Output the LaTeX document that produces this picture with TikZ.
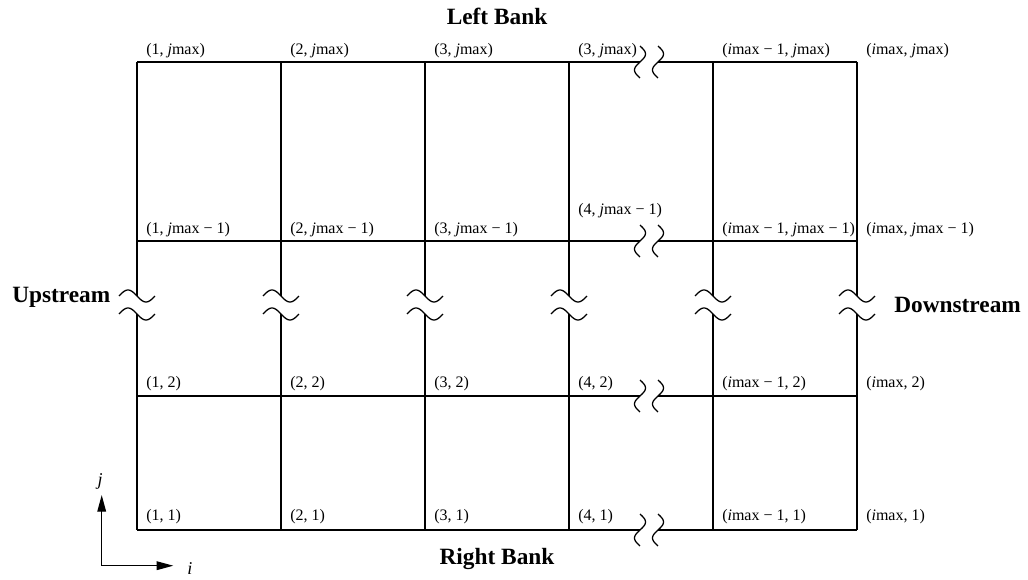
\documentclass[tikz,border=0pt]{standalone}
\usepackage{fontspec}
\setmainfont{Liberation Serif}
\usetikzlibrary{arrows.meta}
\begin{document}
\begin{tikzpicture}[x=0.75pt,y=-0.75pt,
  grid/.style={line width=0.95pt,black},
  lbl/.style={anchor=base west,inner sep=0pt,font=\fontsize{12}{14}\selectfont},
  bank/.style={inner sep=0pt,font=\fontsize{17.5}{20}\selectfont\bfseries},
  axlbl/.style={inner sep=0pt,font=\fontsize{13.5}{15}\selectfont\itshape},
  hbrk/.pic={\draw[grid] plot[smooth,domain=-1:1,samples=41] ({18*\x},{6*sin(180*\x)});},
  vbrk/.pic={\draw[grid] plot[smooth,domain=-1:1,samples=41] ({-5.5*sin(180*\x)},{16*\x});},
  axis/.style={line width=0.95pt,-{Triangle[length=12.5pt,width=6.5pt]}}
]
\useasboundingbox (0,0) rectangle (1028,580);

% grid points
\foreach \c/\xx in {1/137,2/281,3/425,4/569,5/713,6/857}{
  \foreach \r/\yy in {1/530,2/396,3/241,4/62}{
    \coordinate (g\c-\r) at (\xx,\yy);
  }
  \coordinate (vt\c) at (\xx,296);
  \coordinate (vb\c) at (\xx,314);
}
\foreach \r/\yy in {1/530,2/396,3/241,4/62}{
  \coordinate (hl\r) at (640,\yy);
  \coordinate (hr\r) at (658,\yy);
}

% vertical lines with breaks
\foreach \c in {1,...,6}{
  \draw[grid] (g\c-4) -- (g\c-3) -- (vt\c);
  \draw[grid] (vb\c) -- (g\c-2) -- (g\c-1);
  \pic at (vt\c) {hbrk};
  \pic at (vb\c) {hbrk};
}

% horizontal lines with breaks
\foreach \r in {1,...,4}{
  \draw[grid] (g1-\r) -- (g2-\r) -- (g3-\r) -- (g4-\r) -- (hl\r);
  \draw[grid] (hr\r) -- (g5-\r) -- (g6-\r);
  \pic at (hl\r) {vbrk};
  \pic at (hr\r) {vbrk};
}

% labels, top row
\node[lbl] (l14) at ([shift={(9,-7)}]g1-4) {(1, \textit{j}max)};
\node[lbl] (l24) at ([shift={(9,-7)}]g2-4) {(2, \textit{j}max)};
\node[lbl] (l34) at ([shift={(9,-7)}]g3-4) {(3, \textit{j}max)};
\node[lbl] (l44) at ([shift={(9,-7)}]g4-4) {(3, \textit{j}max)};
\node[lbl] (l54) at ([shift={(9,-7)}]g5-4) {(\textit{i}max − 1, \textit{j}max)};
\node[lbl] (l64) at ([shift={(9,-7)}]g6-4) {(\textit{i}max, \textit{j}max)};
% row jmax-1
\node[lbl] (l13) at ([shift={(9,-7)}]g1-3) {(1, \textit{j}max − 1)};
\node[lbl] (l23) at ([shift={(9,-7)}]g2-3) {(2, \textit{j}max − 1)};
\node[lbl] (l33) at ([shift={(9,-7)}]g3-3) {(3, \textit{j}max − 1)};
\node[lbl] (l43) at ([shift={(9,-26)}]g4-3) {(4, \textit{j}max − 1)};
\node[lbl] (l53) at ([shift={(9,-7)}]g5-3) {(\textit{i}max − 1, \textit{j}max − 1)};
\node[lbl] (l63) at ([shift={(9,-7)}]g6-3) {(\textit{i}max, \textit{j}max − 1)};
% row 2
\node[lbl] (l12) at ([shift={(9,-8)}]g1-2) {(1, 2)};
\node[lbl] (l22) at ([shift={(9,-8)}]g2-2) {(2, 2)};
\node[lbl] (l32) at ([shift={(9,-8)}]g3-2) {(3, 2)};
\node[lbl] (l42) at ([shift={(9,-8)}]g4-2) {(4, 2)};
\node[lbl] (l52) at ([shift={(9,-8)}]g5-2) {(\textit{i}max − 1, 2)};
\node[lbl] (l62) at ([shift={(9,-8)}]g6-2) {(\textit{i}max, 2)};
% row 1
\node[lbl] (l11) at ([shift={(9,-9)}]g1-1) {(1, 1)};
\node[lbl] (l21) at ([shift={(9,-9)}]g2-1) {(2, 1)};
\node[lbl] (l31) at ([shift={(9,-9)}]g3-1) {(3, 1)};
\node[lbl] (l41) at ([shift={(9,-9)}]g4-1) {(4, 1)};
\node[lbl] (l51) at ([shift={(9,-9)}]g5-1) {(\textit{i}max − 1, 1)};
\node[lbl] (l61) at ([shift={(9,-9)}]g6-1) {(\textit{i}max, 1)};

% bank labels
\node[bank,anchor=base] (left) at (497,25) {Left Bank};
\node[bank,anchor=base] (right) at (497,565) {Right Bank};
\node[bank,anchor=base west] (up) at (12,303) {Upstream};
\node[bank,anchor=base west] (down) at (894,313) {Downstream};

% axes
\coordinate (ax0) at (101.7,565.7);
\coordinate (axj) at (101.7,495);
\coordinate (axi) at (173.3,565.7);
\draw[axis] (ax0) -- (axj);
\draw[axis] (ax0) -- (axi);
\node[axlbl,anchor=base] (jl) at (100,486) {j};
\node[axlbl,anchor=base west] (il) at (187,575) {i};
\end{tikzpicture}
\end{document}
